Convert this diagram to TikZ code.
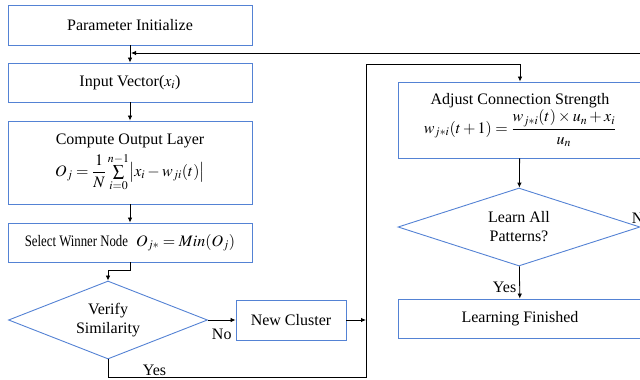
\documentclass[tikz,border=0pt]{standalone}
\usepackage{amsmath}
\usepackage{mathptmx}
\usepackage[no-math]{fontspec}
\setmainfont{Liberation Serif}
\usepackage{graphicx}
\usetikzlibrary{shapes.geometric,arrows.meta}
\definecolor{boxblue}{RGB}{84,130,212}
\tikzstyle{process} = [draw=boxblue,line width=0.9pt,rectangle,minimum width=244pt,inner sep=0pt,font=\fontsize{16}{19}\selectfont,align=center]
\tikzstyle{decision} = [draw=boxblue,line width=0.9pt,diamond,aspect=2.5,inner sep=0pt,font=\fontsize{16}{19}\selectfont,align=center]
\tikzstyle{flow} = [draw,line width=0.8pt,-{Latex[length=5pt,width=4.5pt]}]
\tikzstyle{tag} = [font=\fontsize{16}{19}\selectfont,inner sep=3pt]

\begin{document}
\begin{tikzpicture}[x=1pt,y=-1pt]
\useasboundingbox (0,0) rectangle (640,380);

% left column
\node[process,minimum height=40pt] (init)    at (130,25)    {Parameter Initialize};
\node[process,minimum height=39pt] (input)   at (130,82.5)  {Input Vector($x_i$)};
\node[process,minimum height=83pt] (compute) at (130,162.5) {Compute Output Layer\\[4pt]
      $O_j=\dfrac{1}{N}\sum\limits_{i=0}^{n-1}\bigl|x_i-w_{ji}(t)\bigr|$};
\node[process,minimum height=39pt] (select)  at (130,242.5) {\scalebox{0.8}[1]{Select Winner Node}\ \ $O_{j*}=Min(O_j)$};
\node[decision,minimum width=199pt,minimum height=78pt] (verify) at (108,320) {Verify\\Similarity};
\node[process,minimum width=110pt,minimum height=40pt] (cluster) at (291,320) {New Cluster};

% right column
\node[process,minimum height=76pt] (adjust) at (520,120) {Adjust Connection Strength\\[1pt]
      $w_{j*i}(t+1)=\dfrac{w_{j*i}(t)\times u_n+x_i}{u_n}$};
\node[decision,minimum width=242pt,minimum height=78pt] (learn) at (519,227) {Learn All\\Patterns?};
\node[process,minimum height=39pt] (finish) at (520,318.5) {Learning Finished};

\coordinate (yesend) at (366,377);
\coordinate (bustop) at (366,64);
\coordinate (outR)   at (690,227);
\coordinate (outTop) at (690,53);
\coordinate (merge)  at (131,53);

\draw[flow] (init) -- (input);
\draw[flow] (input) -- (compute);
\draw[flow] (compute) -- (select);
\draw[flow] (select.south) -- ++(0,8) -| (verify.north);
\draw[flow] (verify) -- (cluster) node[tag,midway,below,yshift=-6pt] {No};
\draw[flow] (cluster) -- (cluster.east -| yesend);
\draw[flow] (verify.south) |- (yesend) node[tag,pos=0.59,above,inner sep=1pt] {Yes} -- (bustop) -| (adjust.north);
\draw[flow] (adjust) -- (learn);
\draw[flow] (learn) -- (finish) node[tag,pos=0.65,left] {Yes};
\draw[flow] (learn.east) node[tag,anchor=south west,xshift=-12pt] {No} -- (outR) |- (merge);
\end{tikzpicture}
\end{document}
